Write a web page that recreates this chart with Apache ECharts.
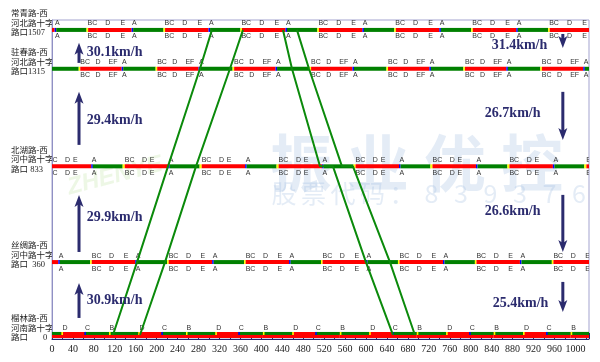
<!DOCTYPE html>
<html><head><meta charset="utf-8">
<script src="https://cdn.jsdelivr.net/npm/echarts@6/dist/echarts.min.js"></script>
<style>html,body{margin:0;padding:0;background:#fff}#c{width:600px;height:362px}</style>
</head><body><div id="c"></div>
<script>
// ---------------- data ----------------
const CYCLE = 147;            // signal cycle (s)
const X_MAX = 1026;           // time axis end (s)
const xTickInterval = 40;
const distances = [0, 360, 833, 1315, 1507];   // m
const intersectionNames = [
  ['榴林路-西', '河南路十字', '路口       0'],
  ['丝绸路-西', '河中路十字', '路口  360'],
  ['北湖路-西', '河中路十字', '路口 833'],
  ['驻春路-西', '河北路十字', '路口1315'],
  ['常青路-西', '河北路十字', '路口1507']
];
const cycleOffsets = [109, 12, 75, -14, 5];   // time of first phase start (s)
const phaseNames = [
  ['B', 'D', 'C'],
  ['A', 'BC', 'D', 'E'],
  ['A', 'BC', 'D', 'E'],
  ['A', 'BC', 'D', 'EF'],
  ['A', 'BC', 'D', 'E']
];
const phaseStarts = [
  [0, 57, 100],
  [0, 63, 96, 124],
  [0, 63, 96, 111],
  [0, 67, 96, 121],
  [0, 62, 96, 125]
];
// lamp segments inside one cycle: [colour, start, end, band]
const lampPlans = [
  [['red', 0, 147, 'full'], ['green', 0, 56, 'top'], ['green', 100, 147, 'top'],
   ['yellow', 0, 3, 'top'], ['yellow', 56, 59, 'top'], ['blue', 100, 103, 'top']],
  [['blue', 0, 3, 'mid'], ['green', 3, 61, 'mid'], ['yellow', 61, 64, 'mid'], ['red', 64, 147, 'mid']],
  [['blue', 0, 3, 'mid'], ['green', 3, 60, 'mid'], ['yellow', 60, 64, 'mid'], ['red', 64, 147, 'mid']],
  [['blue', 0, 3, 'mid'], ['green', 3, 65, 'mid'], ['yellow', 65, 68, 'mid'], ['red', 68, 147, 'mid']],
  [['blue', 0, 3, 'mid'], ['green', 3, 61, 'mid'], ['yellow', 61, 64, 'mid'], ['red', 64, 147, 'mid']]
];
// green-wave band edges: [time s, distance m]
const bandUpLeft    = [[116.5, 0], [162.4, 360], [221.6, 833], [282.7, 1315], [305.6, 1507]];
const bandUpRight   = [[168.1, 0], [215.9, 360], [275.1, 833], [340.0, 1315], [364.9, 1507]];
const bandDownLeft  = [[441.3, 1507], [458.5, 1315], [512.0, 833], [536.8, 833], [599.8, 360], [651.4, 0]];
const bandDownRight = [[468.0, 1507], [491.0, 1315], [554.0, 833], [575.0, 833], [645.7, 360], [693.4, 0]];
const upSpeeds   = ['30.9km/h', '29.9km/h', '29.4km/h', '30.1km/h'];
const downSpeeds = ['25.4km/h', '26.6km/h', '26.7km/h', '31.4km/h'];

// ---------------- layout (annotation placement, in axis units) ----------------
const upTextAt    = [[66.5, 173], [66.5, 583], [66.5, 1062], [66.5, 1398]];
const downTextAt  = [[842, 158], [827, 608], [827, 1097], [840, 1433]];
const upArrows    = [[51.6, 84, 257], [51.6, 410, 692], [51.6, 939, 1201], [51.6, 1344, 1443]];
const downArrows  = [[976, 262, 114], [976, 692, 410], [976, 1201, 963], [976, 1487, 1418]];

const COLORS = { green: '#008000', red: '#ff0000', yellow: '#ffff00', blue: '#0000ff' };
const colorKeys = ['green', 'red', 'yellow', 'blue'];
const bandKeys = ['mid', 'full', 'top'];
const NAVY = '#2b2b6e';

// build lamp segments and phase labels from the cycle plans
const lampData = [];
const phaseLabelData = [];
const phaseLabelText = [];
distances.forEach((d, i) => {
  for (let k = -1; cycleOffsets[i] + k * CYCLE < X_MAX; k++) {
    const base = cycleOffsets[i] + k * CYCLE;
    lampPlans[i].forEach(([c, s, e, b]) => {
      const t0 = Math.max(0, base + s), t1 = Math.min(X_MAX, base + e);
      if (t1 > t0) lampData.push([t0, t1, d, colorKeys.indexOf(c), bandKeys.indexOf(b)]);
    });
    phaseNames[i].forEach((n, j) => {
      const t = base + phaseStarts[i][j];
      if (t > -12 && t < X_MAX - 2) {
        phaseLabelData.push([t, d, 0]); phaseLabelText.push(n);
        if (i > 0) { phaseLabelData.push([t, d, 1]); phaseLabelText.push(n); }
      }
    });
  }
});

const speedTextData = [];
const speedTextStr = [];
upTextAt.forEach((p, i) => { speedTextData.push(p); speedTextStr.push(upSpeeds[i]); });
downTextAt.forEach((p, i) => { speedTextData.push(p); speedTextStr.push(downSpeeds[i]); });
const arrowData = upArrows.concat(downArrows);

const chart = echarts.init(document.getElementById('c'), null, { renderer: 'canvas' });

const bandLine = (data) => ({
  type: 'line', data, showSymbol: false, symbol: 'none', z: 5, silent: true,
  lineStyle: { color: '#0b8a0b', width: 2 }
});

const option = {
  animation: false,
  grid: { left: 52, right: 11, top: 20, bottom: 23, show: true, borderColor: '#a3a3cf', borderWidth: 1 },
  xAxis: {
    type: 'value', min: 0, max: X_MAX, interval: xTickInterval,
    axisLine: { show: true, onZero: false, lineStyle: { color: '#24246e', width: 1 } },
    axisTick: { show: true, inside: true, length: 6, lineStyle: { color: '#24246e' } },
    minorTick: { show: true, splitNumber: 2, length: 4, lineStyle: { color: '#24246e' } },
    axisLabel: {
      color: '#222', fontFamily: 'Liberation Serif', fontSize: 10, margin: 5, showMaxLabel: false,
      formatter: (v) => (v % xTickInterval === 0 ? String(v) : '')
    },
    splitLine: { show: false }
  },
  yAxis: {
    type: 'value', min: -20, max: 1556,
    axisLine: { show: true, onZero: false, lineStyle: { color: '#9090c4' } },
    axisTick: { show: false }, axisLabel: { show: false }, splitLine: { show: false }
  },
  series: [
    {
      type: 'custom', data: lampData, clip: true, z: 2, silent: true,
      encode: { x: [0, 1], y: 2 },
      renderItem(params, api) {
        const t0 = api.value(0), t1 = api.value(1), d = api.value(2);
        const c = COLORS[colorKeys[api.value(3)]];
        const band = bandKeys[api.value(4)];
        const p0 = api.coord([t0, d]), p1 = api.coord([t1, d]);
        let y, h;
        if (band === 'mid') { y = p0[1] - 2; h = 4; }
        else if (band === 'full') { y = p0[1] - 3; h = 6; }
        else { y = p0[1] - 3; h = 3; }
        return { type: 'rect', shape: { x: p0[0], y, width: Math.max(p1[0] - p0[0], 0.6), height: h }, style: { fill: c } };
      }
    },
    {
      type: 'custom', data: phaseLabelData, clip: true, z: 3, silent: true,
      encode: { x: 0, y: 1 },
      renderItem(params, api) {
        const p = api.coord([api.value(0), api.value(1)]);
        const below = api.value(2) === 1;
        const isBottom = api.value(1) === 0;
        return {
          type: 'text', x: p[0] + 0.5, y: p[1] + (below ? 6.5 : (isBottom ? -7 : -6.5)),
          style: { text: phaseLabelText[params.dataIndex], fontSize: 7, fontFamily: 'Liberation Sans',
                   fill: '#333', align: 'left', verticalAlign: 'middle' }
        };
      }
    },
    bandLine(bandUpLeft), bandLine(bandUpRight), bandLine(bandDownLeft), bandLine(bandDownRight),
    {
      type: 'custom', data: arrowData, clip: false, z: 6, silent: true,
      encode: { x: 0, y: [1, 2] },
      renderItem(params, api) {
        const t = api.value(0);
        const p0 = api.coord([t, api.value(1)]), p1 = api.coord([t, api.value(2)]);
        const dir = p1[1] > p0[1] ? 1 : -1;
        const headLen = 10, headW = 4.5;
        const base = p1[1] - dir * headLen;
        return {
          type: 'group', children: [
            { type: 'line', shape: { x1: p0[0], y1: p0[1], x2: p1[0], y2: base + dir * 2 }, style: { stroke: NAVY, lineWidth: 3 } },
            { type: 'polygon', shape: { points: [[p1[0], p1[1]], [p1[0] - headW, base - dir * 2], [p1[0], base + dir * 1], [p1[0] + headW, base - dir * 2]] }, style: { fill: NAVY } }
          ]
        };
      }
    },
    {
      type: 'custom', data: speedTextData, clip: false, z: 6, silent: true,
      encode: { x: 0, y: 1 },
      renderItem(params, api) {
        const p = api.coord([api.value(0), api.value(1)]);
        return {
          type: 'text', x: p[0], y: p[1],
          style: { text: speedTextStr[params.dataIndex], fontSize: 14, fontWeight: 'bold',
                   fontFamily: 'Liberation Serif', fill: NAVY, align: 'left', verticalAlign: 'middle' }
        };
      }
    }
  ]
};
chart.setOption(option);

// intersection names + watermark as graphic text
const graphics = [];
const WM = 'rgba(150,180,222,0.26)';
['振', '业', '优', '控'].forEach((ch, i) => {
  graphics.push({ type: 'text', z: -10, silent: true, x: 301 + i * 77, y: 163,
    style: { text: ch, fontSize: 62, fontWeight: 'bold', fontFamily: 'Noto Sans CJK SC', fill: WM, align: 'center', verticalAlign: 'middle' } });
});
'股票代码：839376'.split('').forEach((ch, i) => {
  graphics.push({ type: 'text', z: -10, silent: true, x: 284 + i * 29.5, y: 193,
    style: { text: ch, fontSize: 25, fontFamily: 'Noto Sans CJK SC', fill: WM, align: 'center', verticalAlign: 'middle' } });
});
graphics.push({ type: 'text', z: -10, silent: true, x: 115, y: 176, rotation: 0.25,
  style: { text: 'ZHENYE', fontSize: 24, fontWeight: 'bold', fontStyle: 'italic', fontFamily: 'Liberation Sans',
           fill: 'rgba(190,225,160,0.28)', align: 'center', verticalAlign: 'middle' } });
distances.forEach((d, i) => {
  const y = chart.convertToPixel({ gridIndex: 0 }, [0, d])[1];
  const lines = intersectionNames[i];
  [-16, -6.5, 3].forEach((dy, j) => {
    graphics.push({ type: 'text', silent: true, x: 11, y: y + dy,
      style: { text: lines[j], fontSize: 8.5, fontFamily: "'Liberation Serif','Noto Sans CJK SC'",
               fill: '#222', align: 'left', verticalAlign: 'middle' } });
  });
});
chart.setOption({ graphic: graphics });
</script>
</body></html>
